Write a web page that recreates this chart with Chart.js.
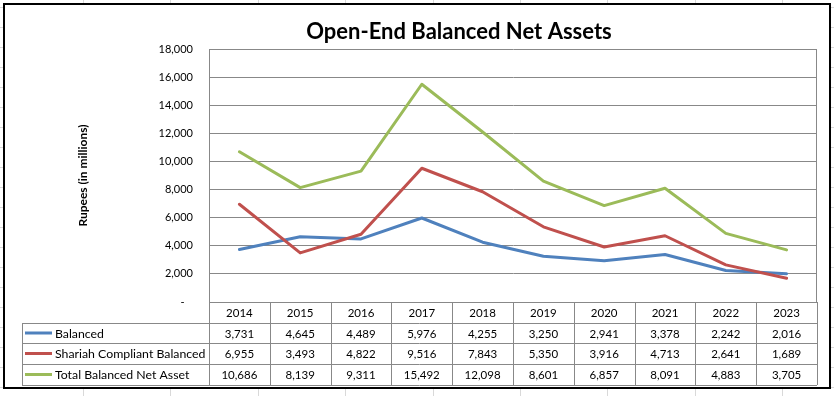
<!DOCTYPE html>
<html>
<head>
<meta charset="utf-8">
<script src="https://cdn.jsdelivr.net/npm/chart.js@4/dist/chart.umd.min.js"></script>
<style>
    html, body { margin: 0; padding: 0; background: #fff; }
    canvas { display: block; }
</style>
</head>
<body>
<canvas id="assetsChart" width="834" height="396"></canvas>
<script>
// Chart data (Rupees in millions)
const years = ['2014', '2015', '2016', '2017', '2018', '2019', '2020', '2021', '2022', '2023'];
const balanced = [3731, 4645, 4489, 5976, 4255, 3250, 2941, 3378, 2242, 2016];
const shariahBalanced = [6955, 3493, 4822, 9516, 7843, 5350, 3916, 4713, 2641, 1689];
const totalBalanced = [10686, 8139, 9311, 15492, 12098, 8601, 6857, 8091, 4883, 3705];
const seriesNames = ['Balanced', 'Shariah Compliant Balanced', 'Total Balanced Net Asset'];
const yTicks = [0, 2000, 4000, 6000, 8000, 10000, 12000, 14000, 16000, 18000];

const colors = ['#4F81BD', '#C0504D', '#9BBB59'];
const gridColor = '#888888';
const fontFamily = 'Lato, "Open Sans", sans-serif';

function fmt(v) {
    return v.toLocaleString('en-US');
}

// Sheet background, chart frame, title, plot border and data table
const sheetPlugin = {
    id: 'sheet',
    beforeDraw(chart) {
        const ctx = chart.ctx;
        ctx.save();
        ctx.fillStyle = '#fff';
        ctx.fillRect(0, 0, chart.width, chart.height);
        // spreadsheet cell lines behind the chart
        ctx.strokeStyle = '#d9d9d9';
        ctx.lineWidth = 1;
        for (let x = 83 - 87.4; x < chart.width; x += 87.4) {
            ctx.beginPath();
            ctx.moveTo(Math.round(x) + 0.5, 0);
            ctx.lineTo(Math.round(x) + 0.5, chart.height);
            ctx.stroke();
        }
        for (let y = 7; y < chart.height; y += 20) {
            ctx.beginPath();
            ctx.moveTo(0, y + 0.5);
            ctx.lineTo(chart.width, y + 0.5);
            ctx.stroke();
        }
        // chart frame
        ctx.fillStyle = '#fff';
        ctx.fillRect(3, 3, 828, 385);
        ctx.strokeStyle = '#000';
        ctx.lineWidth = 2;
        ctx.strokeRect(4, 4, 826, 384);
        ctx.restore();
    },
    afterDraw(chart) {
        const ctx = chart.ctx;
        const area = chart.chartArea;
        const xs = chart.scales.x;
        ctx.save();

        // title, fitted to the reference width
        ctx.fillStyle = '#000';
        ctx.textAlign = 'center';
        ctx.textBaseline = 'alphabetic';
        let size = 24;
        ctx.font = 'bold ' + size + 'px ' + fontFamily;
        const w = ctx.measureText('Open-End Balanced Net Assets').width;
        size = size * 306 / w;
        ctx.font = 'bold ' + size.toFixed(1) + 'px ' + fontFamily;
        ctx.fillText('Open-End Balanced Net Assets', 459, 39);

        // plot area border (right side)
        ctx.strokeStyle = gridColor;
        ctx.lineWidth = 1;
        ctx.beginPath();
        ctx.moveTo(area.right - 0.5, area.top);
        ctx.lineTo(area.right - 0.5, area.bottom);
        ctx.stroke();

        // data table
        const step = (area.right - area.left) / years.length;
        const tableLeft = 22;
        const rowTops = [area.bottom, area.bottom + 21, area.bottom + 41, area.bottom + 62, area.bottom + 83];
        ctx.beginPath();
        for (let i = 0; i <= years.length; i++) {
            const x = Math.round(area.left + i * step) + 0.5;
            ctx.moveTo(x, rowTops[0]);
            ctx.lineTo(x, rowTops[4]);
        }
        ctx.moveTo(tableLeft + 0.5, rowTops[1]);
        ctx.lineTo(tableLeft + 0.5, rowTops[4]);
        for (let r = 1; r < rowTops.length; r++) {
            ctx.moveTo(tableLeft, rowTops[r] + 0.5);
            ctx.lineTo(area.right, rowTops[r] + 0.5);
        }
        ctx.stroke();

        ctx.font = '11.5px ' + fontFamily;
        ctx.fillStyle = '#000';
        ctx.textBaseline = 'middle';
        ctx.textAlign = 'center';
        const rows = [balanced, shariahBalanced, totalBalanced];
        years.forEach((yr, i) => {
            const cx = xs.getPixelForValue(i);
            ctx.fillText(yr, cx, (rowTops[0] + rowTops[1]) / 2 + 1);
            rows.forEach((vals, r) => {
                ctx.fillText(fmt(vals[i]), cx, (rowTops[r + 1] + rowTops[r + 2]) / 2 + 1);
            });
        });
        ctx.textAlign = 'left';
        ctx.font = '12.3px ' + fontFamily;
        seriesNames.forEach((name, r) => {
            const cy = (rowTops[r + 1] + rowTops[r + 2]) / 2;
            ctx.strokeStyle = colors[r];
            ctx.lineWidth = 3;
            ctx.beginPath();
            ctx.moveTo(25, cy);
            ctx.lineTo(52, cy);
            ctx.stroke();
            ctx.fillText(name, 55, cy + 1);
        });
        ctx.restore();
    }
};

const ctx = document.getElementById('assetsChart').getContext('2d');
new Chart(ctx, {
    type: 'line',
    data: {
        labels: years,
        datasets: [
            { label: seriesNames[0], data: balanced, borderColor: colors[0], order: 3 },
            { label: seriesNames[1], data: shariahBalanced, borderColor: colors[1], order: 2 },
            { label: seriesNames[2], data: totalBalanced, borderColor: colors[2], order: 1 }
        ].map(ds => Object.assign(ds, {
            borderWidth: 3,
            pointRadius: 0,
            tension: 0,
            fill: false,
            borderJoinStyle: 'round',
            borderCapStyle: 'round'
        }))
    },
    options: {
        responsive: false,
        animation: false,
        layout: {
            padding: { left: 0, top: 49, right: 17, bottom: 94 }
        },
        plugins: {
            legend: { display: false },
            tooltip: { enabled: false },
            title: { display: false }
        },
        scales: {
            x: {
                display: false,
                offset: true
            },
            y: {
                min: 0,
                max: 18000,
                afterBuildTicks(scale) {
                    scale.ticks = yTicks.map(v => ({ value: v }));
                },
                afterFit(scale) {
                    scale.width = 209;
                },
                grid: {
                    color: gridColor,
                    drawTicks: false
                },
                border: { color: gridColor },
                ticks: {
                    padding: 16,
                    color: '#000',
                    font: { family: fontFamily, size: 11 },
                    callback: v => v === 0 ? '-   ' : fmt(v)
                },
                title: {
                    display: true,
                    text: 'Rupees (in millions)',
                    color: '#000',
                    font: { family: fontFamily, size: 12, weight: 'bold' },
                    padding: { top: 76, bottom: 0 }
                }
            }
        }
    },
    plugins: [sheetPlugin]
});
</script>
</body>
</html>
